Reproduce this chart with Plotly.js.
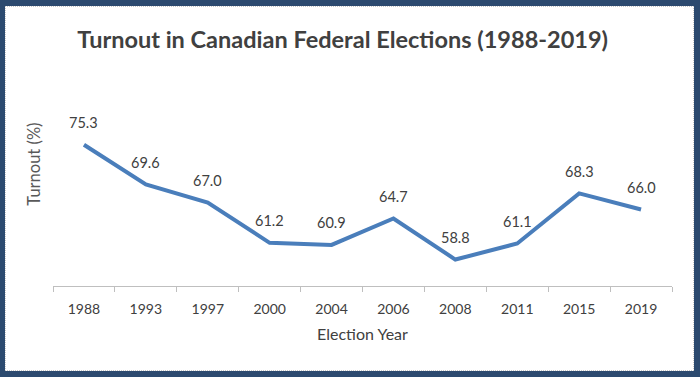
<!DOCTYPE html>
<html>
<head>
<meta charset="utf-8">
<script src="https://cdn.plot.ly/plotly-3.0.1.min.js"></script>
<style>
html,body{margin:0;padding:0;background:#fff;}
#wrap{position:relative;width:700px;height:377px;background:#2c4a6f;overflow:hidden;}
#inner{position:absolute;left:5px;top:6px;width:689px;height:365px;background:#fff;box-sizing:border-box;border:1px dotted #c8c8c8;}
#chart{position:absolute;left:0;top:0;width:687px;height:363px;}
</style>
</head>
<body>
<div id="wrap"><div id="inner"><div id="chart"></div></div></div>
<script>
var years = ["1988","1993","1997","2000","2004","2006","2008","2011","2015","2019"];
var turnout = [75.3, 69.6, 67.0, 61.2, 60.9, 64.7, 58.8, 61.1, 68.3, 66.0];
var labels = ["75.3","69.6","67.0","61.2","60.9","64.7","58.8","61.1","68.3","66.0"];

var trace = {
  x: years, y: turnout, type: "scatter", mode: "lines",
  line: {color: "#4a7ebb", width: 4}, hoverinfo: "skip"
};

// category positions are addressed by their index on the category axis
var annotations = years.map(function(yr, i){
  return {x: i, y: turnout[i], xref: "x", yref: "y", text: labels[i], showarrow: false,
    yshift: 22, font: {family: "Lato, 'Open Sans', sans-serif", size: 14.5, color: "#404040"}};
});
annotations.push({xref: "paper", yref: "paper", x: -0.03, y: 0.7, xanchor: "center", yanchor: "middle",
  text: "Turnout (%)", showarrow: false,
  textangle: -90, font: {family: "Lato, 'Open Sans', sans-serif", size: 16.5, color: "#595959"}});

var layout = {
  width: 687, height: 363,
  margin: {l: 47, r: 21, t: 105, b: 84},
  paper_bgcolor: "rgba(0,0,0,0)", plot_bgcolor: "rgba(0,0,0,0)",
  showlegend: false,
  title: {text: "<b>Turnout in Canadian Federal Elections (1988-2019)</b>", x: 0.49, xanchor: "center", y: 0.91, yanchor: "middle",
    font: {family: "Lato, 'Open Sans', sans-serif", size: 23.5, color: "#404040"}},
  xaxis: {type: "category", categoryorder: "array", categoryarray: years, range: [-0.5, years.length - 0.5],
    showline: true, linecolor: "#bfbfbf", linewidth: 1, ticks: "outside", ticklen: 5,
    tickcolor: "#bfbfbf", tickson: "boundaries", showgrid: false, zeroline: false, tickangle: 0,
    ticklabelstandoff: 10,
    tickfont: {family: "Lato, 'Open Sans', sans-serif", size: 14, color: "#404040"},
    title: {text: "Election Year", standoff: 13, font: {family: "Lato, 'Open Sans', sans-serif", size: 16, color: "#404040"}}},
  yaxis: {range: [55, 80], showticklabels: false, showgrid: false, zeroline: false, showline: false, ticks: ""},
  annotations: annotations
};

Plotly.newPlot("chart", [trace], layout, {displayModeBar: false, staticPlot: true});
</script>
</body>
</html>
